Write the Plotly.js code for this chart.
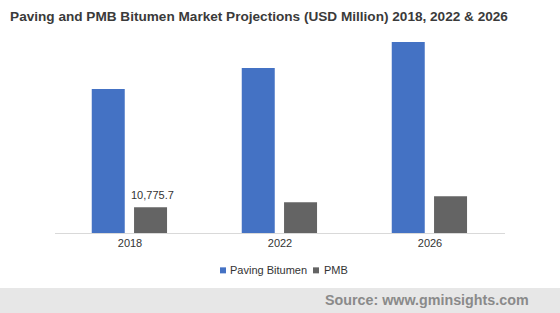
<!DOCTYPE html>
<html>
<head>
<meta charset="utf-8">
<script src="https://cdn.plot.ly/plotly-3.0.1.min.js"></script>
<style>html,body{margin:0;padding:0;background:#fff;}#chart{width:560px;height:313px;}</style>
</head>
<body>
<div id="chart"></div>
<script>
const years = ['2018', '2022', '2026'];
const seriesNames = ['Paving Bitumen', 'PMB'];
const seriesColors = ['#4472C4', '#646464'];
const pavingBitumen = [60250, 69060, 79960];
const pmb = [10775.7, 12870, 15390];
const pmbLabel = '10,775.7';

const FONT = 'Liberation Sans, Arial, sans-serif';
const W = 560, H = 313;
const M = {l: 55, r: 55, t: 30, b: 80.3};
const pw = W - M.l - M.r, ph = H - M.t - M.b;
const px = v => (v - M.l) / pw;          // pixel -> paper x
const py = v => (H - M.b - v) / ph;      // pixel -> paper y

const traces = [
  {
    type: 'bar', name: seriesNames[0], x: years, y: pavingBitumen,
    width: 0.22, offset: -0.255,
    marker: {color: seriesColors[0]}, hoverinfo: 'none'
  },
  {
    type: 'bar', name: seriesNames[1], x: years, y: pmb,
    width: 0.22, offset: 0.027,
    marker: {color: seriesColors[1]}, hoverinfo: 'none'
  }
];

const legendItems = [
  {sq: 220, tx: 228},
  {sq: 313, tx: 321.5}
];

const shapes = [{
  type: 'rect', xref: 'paper', yref: 'paper',
  x0: px(-10), x1: px(W + 10), y0: py(287.5), y1: py(H + 10),
  fillcolor: '#e7e7e7', line: {width: 0}, layer: 'below'
}];
legendItems.forEach((it, i) => {
  shapes.push({
    type: 'rect', xref: 'paper', yref: 'paper',
    x0: px(it.sq), x1: px(it.sq + 6), y0: py(273), y1: py(267),
    fillcolor: seriesColors[i], line: {width: 0}
  });
});

const annotations = [
  {
    text: '<b>Source: www.gminsights.com</b>', xref: 'paper', yref: 'paper',
    x: px(530.5), xanchor: 'right', y: py(299.5), yanchor: 'middle', showarrow: false,
    font: {family: FONT, size: 14.3, color: '#8a8a8a'}
  },
  {
    text: pmbLabel, xref: 'x', yref: 'y', x: years.indexOf('2018'), y: pmb[0],
    xshift: 22, yshift: 12, yanchor: 'middle', xanchor: 'center', showarrow: false,
    font: {family: FONT, size: 11, color: '#333333'}
  }
];
legendItems.forEach((it, i) => {
  annotations.push({
    text: seriesNames[i], xref: 'paper', yref: 'paper',
    x: px(it.tx), xanchor: 'left', y: py(270), yanchor: 'middle', showarrow: false,
    font: {family: FONT, size: 11, color: '#333333'}
  });
});

const layout = {
  width: W, height: H,
  margin: M,
  paper_bgcolor: '#ffffff', plot_bgcolor: '#ffffff',
  font: {family: FONT, size: 11, color: '#333333'},
  title: {
    text: '<b>Paving and PMB Bitumen Market Projections (USD Million) 2018, 2022 &amp; 2026</b>',
    font: {family: FONT, size: 13.6, color: '#3a3a3a'},
    x: 259 / W, xanchor: 'center', xref: 'container',
    y: 1 - 16.5 / H, yanchor: 'middle', yref: 'container'
  },
  barmode: 'overlay',
  xaxis: {
    type: 'category', range: [-0.5, 2.5], autorange: false,
    showline: true, linecolor: '#d9d9d9', linewidth: 1,
    ticks: '', showgrid: false, zeroline: false,
    tickfont: {size: 11, color: '#333333'}
  },
  yaxis: {
    range: [0, 85000], autorange: false, visible: false, showgrid: false, zeroline: false
  },
  showlegend: false,
  shapes: shapes,
  annotations: annotations
};

Plotly.newPlot('chart', traces, layout, {displayModeBar: false, staticPlot: true});
</script>
</body>
</html>
